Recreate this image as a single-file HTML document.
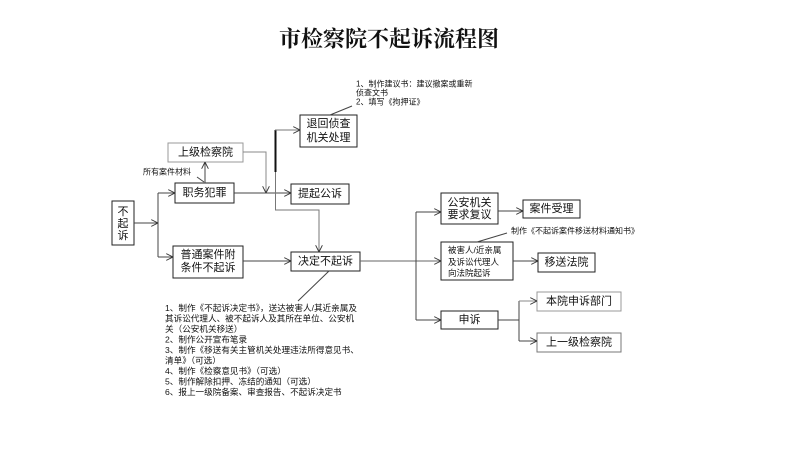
<!DOCTYPE html>
<html>
<head>
<meta charset="utf-8">
<style>
html,body{margin:0;padding:0;background:#fff;}
svg{display:block;}
text{font-family:"Liberation Sans","Noto Sans CJK SC",sans-serif;fill:#111;}
.t{font-size:11px;text-anchor:middle;dominant-baseline:central;}
.s{font-size:8px;dominant-baseline:central;}
.l{font-size:8.6px;dominant-baseline:central;}
</style>
</head>
<body>
<svg width="800" height="455" viewBox="0 0 800 455" xmlns="http://www.w3.org/2000/svg">
<defs>
<marker id="a" viewBox="0 0 10 10" refX="10" refY="5" markerWidth="7" markerHeight="7" markerUnits="userSpaceOnUse" orient="auto">
<path d="M0,0 L10,5 L0,10" fill="none" stroke="#333" stroke-width="1.3"/>
</marker>
</defs>

<!-- title -->
<text x="389" y="39" style="font-family:'Liberation Serif','Noto Serif CJK SC',serif;font-size:22px;font-weight:bold;text-anchor:middle;dominant-baseline:central;">市检察院不起诉流程图</text>

<g fill="#fff" stroke="#222" stroke-width="1">
<rect x="112" y="201" width="22" height="44"/>
<rect x="168" y="143" width="75" height="19" stroke="#999"/>
<rect x="175" y="183" width="59" height="20"/>
<rect x="300" y="115" width="57" height="32"/>
<rect x="291" y="184" width="58" height="20"/>
<rect x="173" y="246" width="70" height="32"/>
<rect x="291" y="252" width="69" height="19"/>
<rect x="441" y="193" width="57" height="31"/>
<rect x="523" y="200" width="57" height="18"/>
<rect x="441" y="242" width="72" height="38"/>
<rect x="538" y="253" width="57" height="19"/>
<rect x="441" y="311" width="57" height="18"/>
<rect x="537" y="292" width="84" height="19" stroke="#999"/>
<rect x="537" y="333" width="84" height="19" stroke="#777"/>
</g>

<!-- connectors -->
<g fill="none" stroke="#444" stroke-width="1">
<line x1="134" y1="223" x2="158" y2="223" marker-end="url(#a)"/>
<line x1="158" y1="193" x2="158" y2="257"/>
<line x1="158" y1="193" x2="175" y2="193" marker-end="url(#a)"/>
<line x1="158" y1="257" x2="173" y2="257" marker-end="url(#a)"/>
<line x1="205" y1="183" x2="205" y2="162" marker-end="url(#a)"/>
<line x1="197" y1="177" x2="204" y2="182"/>
<polyline points="243,152 266,152 266,193" stroke="#888" marker-end="url(#a)"/>
<line x1="234" y1="193" x2="291" y2="193" marker-end="url(#a)"/>
<line x1="275.5" y1="130" x2="275.5" y2="172" stroke="#111" stroke-width="2"/>
<line x1="275.5" y1="172" x2="275.5" y2="210" stroke="#777"/>
<line x1="275" y1="130" x2="300" y2="130" stroke="#777" marker-end="url(#a)"/>
<polyline points="275,210 319,210 319,252" stroke="#777" marker-end="url(#a)"/>
<line x1="243" y1="261" x2="291" y2="261" marker-end="url(#a)"/>
<line x1="360" y1="261" x2="441" y2="261" stroke="#666" marker-end="url(#a)"/>
<line x1="416" y1="212" x2="416" y2="320"/>
<line x1="416" y1="212" x2="441" y2="212" marker-end="url(#a)"/>
<line x1="416" y1="320" x2="441" y2="320" marker-end="url(#a)"/>
<line x1="498" y1="211" x2="523" y2="211" marker-end="url(#a)"/>
<line x1="513" y1="261" x2="538" y2="261" marker-end="url(#a)"/>
<line x1="498" y1="320" x2="519" y2="320"/>
<line x1="519" y1="301" x2="519" y2="341"/>
<line x1="519" y1="301" x2="537" y2="301" stroke="#888" marker-end="url(#a)"/>
<line x1="519" y1="341" x2="537" y2="341" marker-end="url(#a)"/>
<line x1="477" y1="242" x2="507" y2="233"/>
<line x1="329" y1="271" x2="298" y2="301"/>
<line x1="330" y1="115" x2="352" y2="106"/>
</g>

<!-- box text -->
<text class="t" x="123" y="212">不</text>
<text class="t" x="123" y="224">起</text>
<text class="t" x="123" y="236">诉</text>
<text class="t" x="205.5" y="152.5">上级检察院</text>
<text class="t" x="204.5" y="193">职务犯罪</text>
<text class="t" x="328.5" y="124">退回侦查</text>
<text class="t" x="328.5" y="138">机关处理</text>
<text class="t" x="320" y="194">提起公诉</text>
<text class="t" x="208" y="255">普通案件附</text>
<text class="t" x="208" y="268">条件不起诉</text>
<text class="t" x="325.5" y="261.5">决定不起诉</text>
<text class="t" x="469.5" y="203">公安机关</text>
<text class="t" x="469.5" y="215">要求复议</text>
<text class="t" x="551.5" y="209">案件受理</text>
<text class="s" x="448" y="250" style="font-size:8.5px">被害人/近亲属</text>
<text class="s" x="448" y="262" style="font-size:8.5px">及诉讼代理人</text>
<text class="s" x="448" y="273" style="font-size:8.5px">向法院起诉</text>
<text class="t" x="566.5" y="262.5">移送法院</text>
<text class="t" x="469.5" y="320">申诉</text>
<text class="t" x="579" y="301.5">本院申诉部门</text>
<text class="t" x="579" y="342.5">上一级检察院</text>

<!-- notes -->
<text class="s" x="143" y="172">所有案件材料</text>
<text class="s" x="356" y="84">1、制作建议书：建议撤案或重新</text>
<text class="s" x="356" y="93">侦查文书</text>
<text class="s" x="356" y="102">2、填写《拘押证》</text>
<text class="s" x="511" y="231">制作《不起诉案件移送材料通知书》</text>

<text class="l" x="165" y="308">1、制作《不起诉决定书》，送达被害人/其近亲属及</text>
<text class="l" x="165" y="318.5">其诉讼代理人、被不起诉人及其所在单位、公安机</text>
<text class="l" x="165" y="329">关（公安机关移送）</text>
<text class="l" x="165" y="339.5">2、制作公开宣布笔录</text>
<text class="l" x="165" y="350">3、制作《移送有关主管机关处理违法所得意见书、</text>
<text class="l" x="165" y="360.5">清单》（可选）</text>
<text class="l" x="165" y="371">4、制作《检察意见书》（可选）</text>
<text class="l" x="165" y="381.5">5、制作解除扣押、冻结的通知（可选）</text>
<text class="l" x="165" y="392">6、报上一级院备案、审查报告、不起诉决定书</text>
</svg>
</body>
</html>
